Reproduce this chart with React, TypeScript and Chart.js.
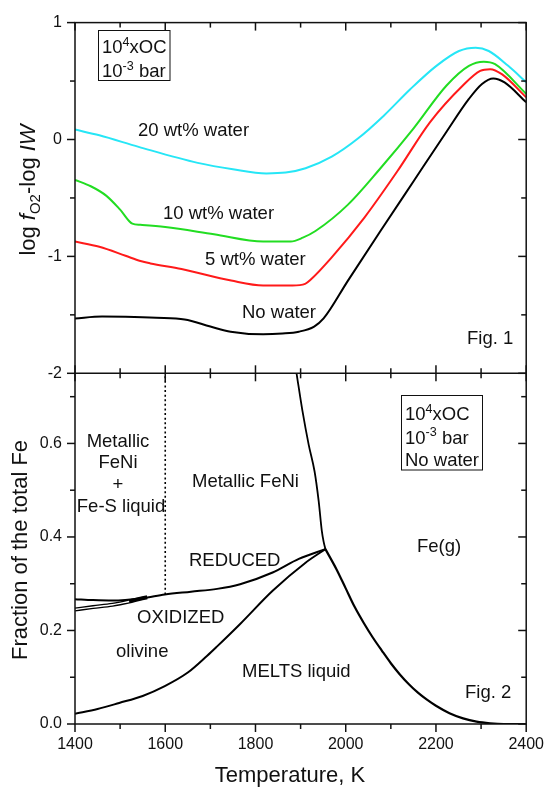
import React, { useEffect, useRef } from "react";
import { Chart, registerables } from "chart.js";

Chart.register(...registerables);

// ---------- axes ----------
const X_MAJOR = [1400, 1600, 1800, 2000, 2200, 2400];
const X_MINOR = [1500, 1700, 1900, 2100, 2300];
const TOP_MAJOR = [1, 0, -1, -2];
const TOP_MINOR = [0.5, -0.5, -1.5];
const BOT_MAJOR = [0, 0.2, 0.4, 0.6];
const BOT_MINOR = [0.1, 0.3, 0.5, 0.7];

// ---------- Fig. 1 : log fO2 - log IW ----------
const T_W20 = [1400, 1454, 1541, 1672, 1750, 1824, 1867, 1911, 1969, 2027, 2085, 2143, 2201, 2251, 2288, 2317, 2360, 2400];
const V_W20 = [0.085, 0.036, -0.063, -0.2, -0.255, -0.29, -0.283, -0.246, -0.147, 0.008, 0.206, 0.43, 0.63, 0.757, 0.785, 0.757, 0.63, 0.49];

const T_W10 = [1400, 1435, 1469, 1500, 1527, 1545, 1600, 1708, 1817, 1878, 1905, 1933, 2005, 2077, 2150, 2223, 2273, 2306, 2331, 2400];
const V_W10 = [-0.345, -0.4, -0.48, -0.6, -0.72, -0.73, -0.749, -0.811, -0.873, -0.873, -0.84, -0.783, -0.557, -0.246, 0.093, 0.46, 0.63, 0.666, 0.644, 0.39];

const T_W5 = [1400, 1454, 1512, 1545, 1567, 1636, 1746, 1817, 1882, 1910, 1922, 1969, 2041, 2114, 2187, 2259, 2298, 2320, 2346, 2400];
const V_W5 = [-0.873, -0.918, -0.995, -1.04, -1.06, -1.108, -1.207, -1.249, -1.249, -1.235, -1.2, -1.008, -0.67, -0.274, 0.149, 0.46, 0.587, 0.602, 0.559, 0.361];

const T_W0 = [1400, 1460, 1512, 1580, 1643, 1700, 1745, 1817, 1860, 1896, 1930, 1951, 2005, 2077, 2150, 2223, 2273, 2302, 2327, 2352, 2400];
const V_W0 = [-1.531, -1.515, -1.517, -1.525, -1.54, -1.6, -1.644, -1.667, -1.66, -1.644, -1.6, -1.531, -1.207, -0.783, -0.359, 0.064, 0.347, 0.475, 0.522, 0.488, 0.319];

// ---------- Fig. 2 : fraction of the total Fe ----------
const T_MELT = [1400, 1450, 1498, 1550, 1599, 1650, 1693, 1715, 1766, 1838, 1911, 1955];
const V_MELT = [0.022, 0.032, 0.045, 0.06, 0.081, 0.11, 0.146, 0.166, 0.214, 0.285, 0.345, 0.374];

const T_RED = [1400, 1440, 1483, 1549, 1599, 1657, 1715, 1766, 1838, 1896, 1955];
const V_RED = [0.267, 0.265, 0.264, 0.269, 0.277, 0.283, 0.289, 0.299, 0.324, 0.353, 0.374];

const T_OX = [1400, 1440, 1483, 1520, 1545, 1560];
const V_OX = [0.245, 0.25, 0.255, 0.262, 0.268, 0.271];

const T_METAL = [1891, 1904, 1918, 1931, 1940, 1947, 1951, 1955];
const V_METAL = [0.75, 0.67, 0.597, 0.54, 0.477, 0.413, 0.39, 0.374];

const T_GAS = [1955, 1980, 2000, 2020, 2040, 2060, 2080, 2100, 2120, 2140, 2160, 2180, 2200, 2230, 2260, 2290, 2320, 2350, 2400];
const V_GAS = [0.374, 0.33, 0.29, 0.25, 0.216, 0.185, 0.157, 0.13, 0.106, 0.085, 0.067, 0.052, 0.039, 0.023, 0.012, 0.005, 0.0015, 0, 0];

const T_DOT = [1600, 1600];
const V_DOT = [0.277, 0.75];

const FONT = '"Liberation Sans", Arial, Helvetica, sans-serif';
const INK = "#111";

type Part = { t: string; s?: "sup" | "sub"; i?: boolean };

const pts = (t: number[], v: number[]) => t.map((x, k) => ({ x, y: v[k] }));

function drawRich(ctx: CanvasRenderingContext2D, parts: Part[], x: number, y: number, size: number, align: "left" | "center") {
  const fontOf = (p: Part) => {
    const fs = p.s ? size * 0.68 : size;
    return `${p.i ? "italic " : ""}${fs}px ${FONT}`;
  };
  let total = 0;
  const widths = parts.map((p) => {
    ctx.font = fontOf(p);
    const w = ctx.measureText(p.t).width;
    total += w;
    return w;
  });
  let cx = align === "center" ? x - total / 2 : x;
  ctx.textAlign = "left";
  ctx.textBaseline = "alphabetic";
  parts.forEach((p, k) => {
    ctx.font = fontOf(p);
    const dy = p.s === "sup" ? -size * 0.38 : p.s === "sub" ? size * 0.22 : 0;
    ctx.fillText(p.t, cx, y + dy);
    cx += widths[k];
  });
}

const overlay = {
  id: "overlay",
  afterDatasetsDraw(chart: any) {
    const { ctx, chartArea: ca, scales } = chart;
    const sx = scales.x, yt = scales.yTop, yb = scales.yBot;
    const yd = yt.bottom;
    ctx.save();
    ctx.strokeStyle = INK;
    ctx.lineWidth = 1.5;
    ctx.lineCap = "butt";
    const ln = (x1: number, y1: number, x2: number, y2: number) => {
      ctx.beginPath();
      ctx.moveTo(x1, y1);
      ctx.lineTo(x2, y2);
      ctx.stroke();
    };
    ctx.strokeRect(ca.left, ca.top, ca.right - ca.left, ca.bottom - ca.top);
    ln(ca.left, yd, ca.right, yd);
    const MAJ = 8, MIN = 5;
    const yTicks = (sc: any, vals: number[], len: number) => {
      vals.forEach((v) => {
        const py = sc.getPixelForValue(v);
        ln(ca.left - len, py, ca.left, py);
        ln(ca.right - len, py, ca.right, py);
      });
    };
    yTicks(yt, TOP_MAJOR, MAJ);
    yTicks(yt, TOP_MINOR, MIN);
    yTicks(yb, BOT_MAJOR, MAJ);
    yTicks(yb, BOT_MINOR, MIN);
    const xTicks = (vals: number[], len: number) => {
      vals.forEach((v) => {
        const px = sx.getPixelForValue(v);
        ln(px, ca.top, px, ca.top + len);
        ln(px, yd - len, px, yd + len);
        ln(px, ca.bottom, px, ca.bottom + len);
      });
    };
    xTicks(X_MAJOR, MAJ);
    xTicks(X_MINOR, MIN);

    // labels
    ctx.fillStyle = INK;
    const A = 18.5;
    const L = (t: string, x: number, y: number, align: "left" | "center" = "left") => drawRich(ctx, [{ t }], x, y, A, align);
    L("20 wt% water", 138, 136);
    L("10 wt% water", 163, 219);
    L("5 wt% water", 205, 265);
    L("No water", 242, 318);
    L("Fig. 1", 467, 344);

    L("Metallic", 118, 447, "center");
    L("FeNi", 118, 468, "center");
    L("+", 118, 490, "center");
    L("Fe-S liquid", 121, 511.5, "center");
    L("Metallic FeNi", 192, 486.5);
    L("REDUCED", 189, 565.5);
    L("OXIDIZED", 137, 622.5);
    L("olivine", 116, 656.5);
    L("MELTS liquid", 242, 676.5);
    L("Fe(g)", 417, 551.5);
    L("Fig. 2", 465, 698);

    // boxes
    ctx.lineWidth = 1;
    ctx.strokeRect(98.5, 30.5, 71.5, 50);
    drawRich(ctx, [{ t: "10" }, { t: "4", s: "sup" }, { t: "xOC" }], 102, 53.3, A, "left");
    drawRich(ctx, [{ t: "10" }, { t: "-3", s: "sup" }, { t: " bar" }], 102, 77.3, A, "left");
    ctx.strokeRect(401.5, 395.5, 81, 74.5);
    drawRich(ctx, [{ t: "10" }, { t: "4", s: "sup" }, { t: "xOC" }], 405, 420, A, "left");
    drawRich(ctx, [{ t: "10" }, { t: "-3", s: "sup" }, { t: " bar" }], 405, 443.5, A, "left");
    drawRich(ctx, [{ t: "No water" }], 405, 466, A, "left");

    // axis titles
    const T = 22;
    drawRich(ctx, [{ t: "Temperature, K" }], 290, 782, T, "center");
    ctx.save();
    ctx.translate(35, 190);
    ctx.rotate(-Math.PI / 2);
    drawRich(ctx, [{ t: "log " }, { t: "f", i: true }, { t: "O2", s: "sub" }, { t: "-log " }, { t: "IW", i: true }], 0, 0, T, "center");
    ctx.restore();
    ctx.save();
    ctx.translate(26.7, 550);
    ctx.rotate(-Math.PI / 2);
    drawRich(ctx, [{ t: "Fraction of the total Fe" }], 0, 0, T, "center");
    ctx.restore();
    ctx.restore();
  },
};

export default function App() {
  const ref = useRef<HTMLCanvasElement | null>(null);
  useEffect(() => {
    if (!ref.current) return;
    const tickFont = { family: FONT, size: 16 };
    const common = { borderWidth: 2, pointRadius: 0, fill: false, cubicInterpolationMode: "monotone" as const };
    const top = (label: string, t: number[], v: number[], color: string) => ({ ...common, label, data: pts(t, v), borderColor: color, yAxisID: "yTop" });
    const bot = (label: string, t: number[], v: number[], extra: any = {}) => ({ ...common, label, data: pts(t, v), borderColor: "#000", yAxisID: "yBot", ...extra });
    const chart = new Chart(ref.current, {
      type: "line",
      data: {
        datasets: [
          bot("ox-gap", T_OX.filter((t) => t <= 1520), V_OX.filter((_, k) => T_OX[k] <= 1520), { borderColor: "#fff", borderWidth: 1.4 }),
          bot("ox", T_OX, V_OX, { borderWidth: 4 }),
          bot("reduced", T_RED, V_RED),
          bot("melts", T_MELT, V_MELT),
          bot("metal", T_METAL, V_METAL, { borderWidth: 1.8 }),
          bot("gas", T_GAS, V_GAS, { borderWidth: 2.2 }),
          bot("dot", T_DOT, V_DOT, { borderWidth: 1.6, borderDash: [2, 2.6], cubicInterpolationMode: "default", tension: 0 }),
          top("20 wt% water", T_W20, V_W20, "#26e6f6"),
          top("10 wt% water", T_W10, V_W10, "#22dd22"),
          top("5 wt% water", T_W5, V_W5, "#ff1a1a"),
          top("No water", T_W0, V_W0, "#000"),
        ],
      },
      options: {
        animation: false,
        responsive: false,
        maintainAspectRatio: false,
        layout: { padding: { top: 16, right: 19.3, left: 0, bottom: 0 } },
        plugins: { legend: { display: false }, tooltip: { enabled: false } },
        scales: {
          x: {
            type: "linear",
            min: 1400,
            max: 2400,
            afterBuildTicks: (s: any) => { s.ticks = X_MAJOR.map((value) => ({ value })); },
            afterFit: (s: any) => { s.height = 63; },
            grid: { display: false, drawTicks: false },
            border: { display: false },
            ticks: { font: tickFont, color: INK, padding: 11, autoSkip: false, maxRotation: 0, callback: (v: any) => String(v) },
          },
          yBot: {
            type: "linear",
            position: "left",
            stack: "v",
            stackWeight: 1,
            min: 0,
            max: 0.75,
            afterBuildTicks: (s: any) => { s.ticks = BOT_MAJOR.map((value) => ({ value })); },
            afterFit: (s: any) => { s.width = 75; },
            grid: { display: false, drawTicks: false },
            border: { display: false },
            ticks: { font: tickFont, color: INK, padding: 13, autoSkip: false, callback: (v: any) => Number(v).toFixed(1) },
          },
          yTop: {
            type: "linear",
            position: "left",
            stack: "v",
            stackWeight: 1,
            min: -2,
            max: 1,
            afterBuildTicks: (s: any) => { s.ticks = TOP_MAJOR.map((value) => ({ value })); },
            afterFit: (s: any) => { s.width = 75; },
            grid: { display: false, drawTicks: false },
            border: { display: false },
            ticks: { font: tickFont, color: INK, padding: 13, autoSkip: false, callback: (v: any) => String(v) },
          },
        },
      } as any,
      plugins: [overlay],
    });
    return () => chart.destroy();
  }, []);
  return (
    <div style={{ position: "absolute", left: 0, top: 0, width: 555, height: 787, background: "#fff" }}>
      <canvas ref={ref} width={555} height={787} style={{ display: "block", width: 555, height: 787 }} />
    </div>
  );
}
